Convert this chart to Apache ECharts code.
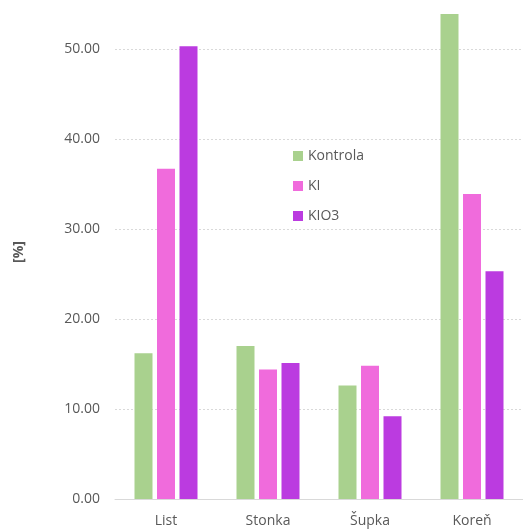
<!DOCTYPE html>
<html>
<head>
<meta charset="utf-8">
<script src="https://cdn.jsdelivr.net/npm/echarts@6/dist/echarts.min.js"></script>
<style>
html, body { margin: 0; padding: 0; background: #fff; overflow: hidden; }
#wrap { width: 523px; height: 529px; overflow: hidden; position: relative; }
#chart { width: 523px; height: 570px; position: absolute; left: 0; top: -41px; }
</style>
</head>
<body>
<div id="wrap"><div id="chart"></div></div>
<script>
// data
var categories = ['List', 'Stonka', 'Šupka', 'Koreň'];
var kontrola = [16.2, 17.0, 12.6, 53.9];
var ki = [36.7, 14.4, 14.8, 33.9];
var kio3 = [50.3, 15.1, 9.2, 25.3];

var textColor = '#595959';
var fontFam = '"Open Sans", "Noto Sans", sans-serif';

var myChart = echarts.init(document.getElementById('chart'));

myChart.setOption({
    animation: false,
    legend: {
        orient: 'vertical',
        left: 288,
        top: 185,
        itemWidth: 10,
        itemHeight: 10,
        itemGap: 16,
        icon: 'rect',
        textStyle: { color: textColor, fontSize: 14, fontFamily: fontFam }
    },
    grid: {
        left: 115,
        right: 0,
        top: 0,
        bottom: 30,
        outerBoundsMode: 'none'
    },
    xAxis: {
        type: 'category',
        data: categories,
        axisTick: { show: false },
        axisLine: { lineStyle: { color: '#d9d9d9', width: 1 } },
        axisLabel: { color: textColor, fontSize: 14, fontFamily: fontFam, margin: 15 }
    },
    yAxis: {
        type: 'value',
        min: 0,
        max: 60,
        interval: 10,
        name: '[%]',
        nameLocation: 'middle',
        nameRotate: 90,
        nameGap: 89,
        nameTextStyle: {
            color: textColor, fontSize: 14, fontWeight: 'bold', fontFamily: fontFam,
            padding: [0, 46, 0, 0]
        },
        axisLabel: {
            color: textColor, fontSize: 14, fontFamily: fontFam, margin: 15,
            formatter: function (v) { return v.toFixed(2); }
        },
        splitLine: { lineStyle: { color: '#d9d9d9', type: [2, 2] } }
    },
    series: [
        {
            name: 'Kontrola',
            type: 'bar',
            barWidth: 18,
            barGap: '25%',
            itemStyle: { color: '#a9d18e' },
            data: kontrola
        },
        {
            name: 'KI',
            type: 'bar',
            barWidth: 18,
            barGap: '25%',
            itemStyle: { color: '#f06bdc' },
            data: ki
        },
        {
            name: 'KIO3',
            type: 'bar',
            barWidth: 18,
            barGap: '25%',
            itemStyle: { color: '#bb3be0' },
            data: kio3
        }
    ]
});
</script>
</body>
</html>
